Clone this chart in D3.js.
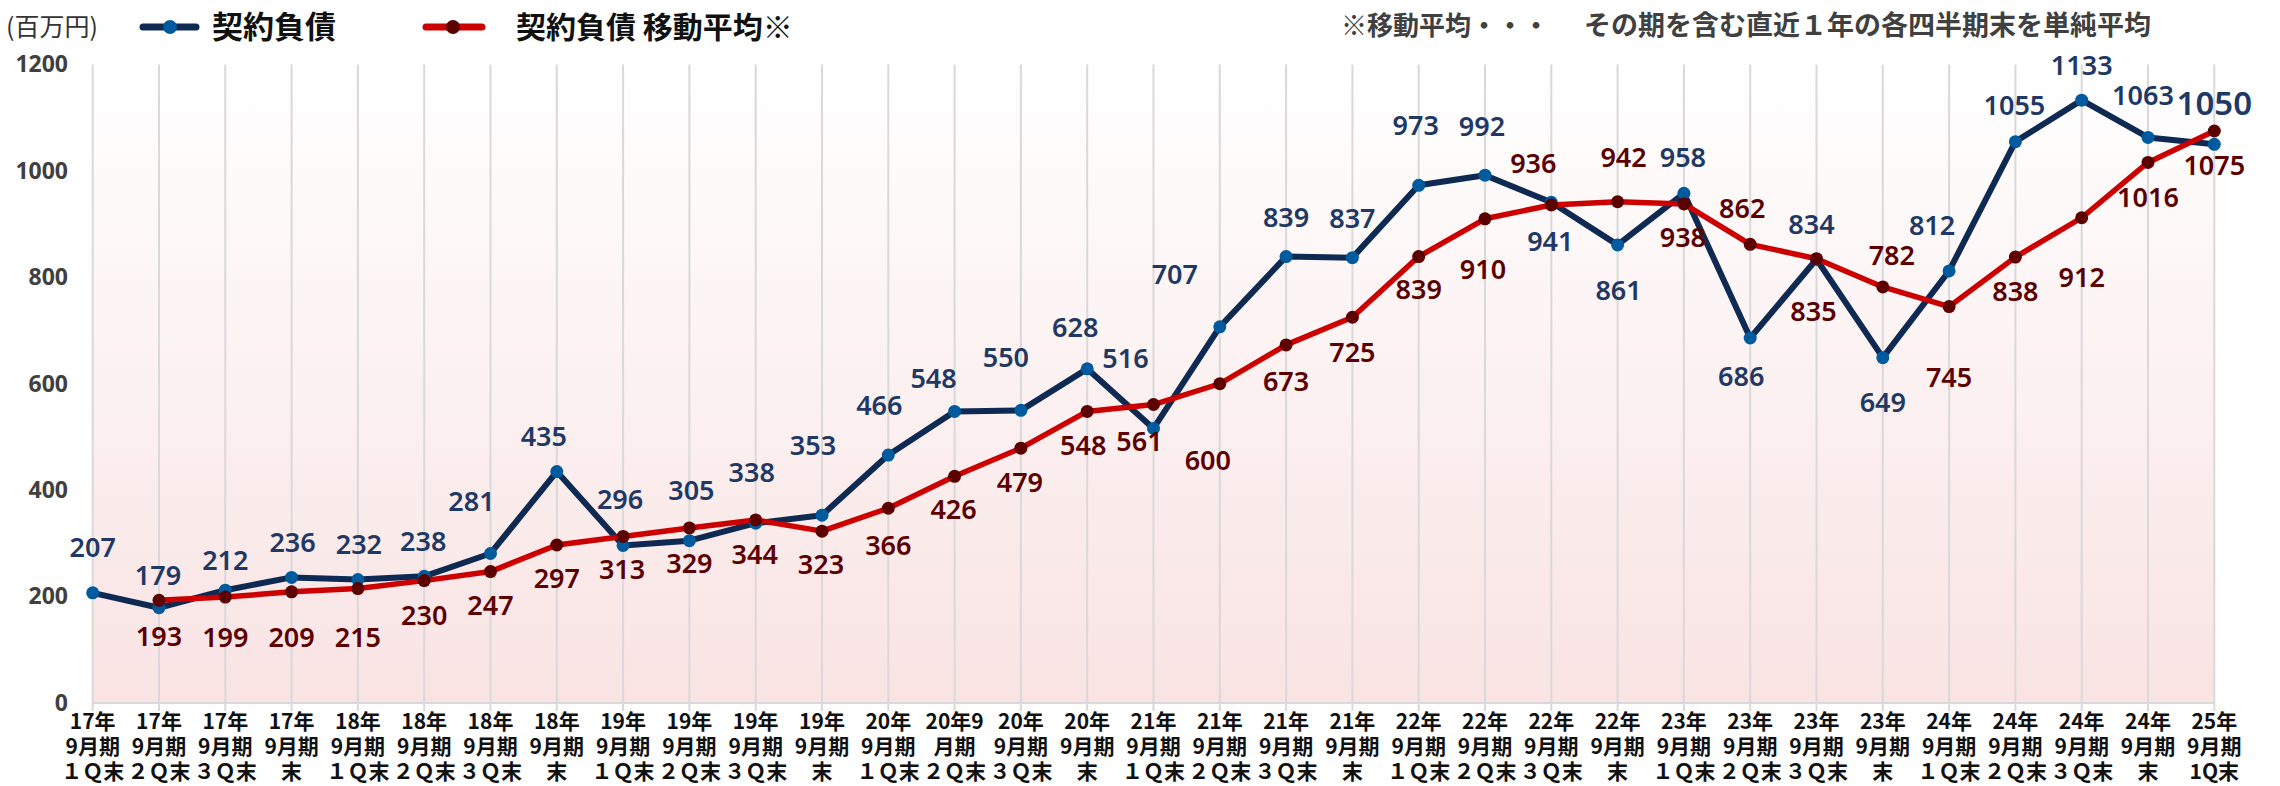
<!DOCTYPE html>
<html>
<head>
<meta charset="utf-8">
<script src="https://cdn.jsdelivr.net/npm/d3@7"></script>
<style>
  body { margin: 0; background: #fff; }
  svg { display: block; font-family: "Noto Sans", "Noto Sans CJK JP", sans-serif; }
  .jp { font-family: "Noto Sans CJK JP", sans-serif; }
</style>
</head>
<body>
<div id="viz"></div>
<script>
var width = 2280,
    height = 786;

// tick labels (3 lines each)
var periodLabels = [
  ['17年', '9月期', '１Ｑ末'], ['17年', '9月期', '２Ｑ末'], ['17年', '9月期', '３Ｑ末'], ['17年', '9月期', '末'],
  ['18年', '9月期', '１Ｑ末'], ['18年', '9月期', '２Ｑ末'], ['18年', '9月期', '３Ｑ末'], ['18年', '9月期', '末'],
  ['19年', '9月期', '１Ｑ末'], ['19年', '9月期', '２Ｑ末'], ['19年', '9月期', '３Ｑ末'], ['19年', '9月期', '末'],
  ['20年', '9月期', '１Ｑ末'], ['20年9', '月期', '２Ｑ末'], ['20年', '9月期', '３Ｑ末'], ['20年', '9月期', '末'],
  ['21年', '9月期', '１Ｑ末'], ['21年', '9月期', '２Ｑ末'], ['21年', '9月期', '３Ｑ末'], ['21年', '9月期', '末'],
  ['22年', '9月期', '１Ｑ末'], ['22年', '9月期', '２Ｑ末'], ['22年', '9月期', '３Ｑ末'], ['22年', '9月期', '末'],
  ['23年', '9月期', '１Ｑ末'], ['23年', '9月期', '２Ｑ末'], ['23年', '9月期', '３Ｑ末'], ['23年', '9月期', '末'],
  ['24年', '9月期', '１Ｑ末'], ['24年', '9月期', '２Ｑ末'], ['24年', '9月期', '３Ｑ末'], ['24年', '9月期', '末'],
  ['25年', '9月期', '1Q末']
];

// 契約負債
var liability = [207, 179, 212, 236, 232, 238, 281, 435, 296, 305, 338, 353,
  466, 548, 550, 628, 516, 707, 839, 837, 973, 992, 941, 861,
  958, 686, 834, 649, 812, 1055, 1133, 1063, 1050];

// 移動平均 (starts at 2nd period)
var movingAvg = [null, 193, 199, 209, 215, 230, 247, 297, 313, 329, 344, 323,
  366, 426, 479, 548, 561, 600, 673, 725, 839, 910, 936, 942,
  938, 862, 835, 782, 745, 838, 912, 1016, 1075];

var yTicks = [0, 200, 400, 600, 800, 1000, 1200];

// label offsets from the point [dx, dy(baseline)]
var liabLabelOff = [
  [0, -36], [-1, -23], [0, -20], [1, -25], [1, -26], [-1, -25], [-19, -42], [-13, -26],
  [-3, -37], [2, -41], [-4, -41], [-9, -60], [-9, -40], [-21, -23], [-15, -43], [-12, -32],
  [-28, -60], [-45, -43], [0, -30], [0, -30], [-3, -50], [-3, -39], [-1, 49], [1, 55],
  [-1, -26], [-9, 48], [-5, -25], [0, 54], [-17, -36], [-1, -27], [0, -25], [-5, -32], [0, -29]
];
var avgLabelOff = [
  null, [0, 46], [0, 50], [0, 55], [0, 58], [0, 44], [0, 43], [0, 43],
  [-1, 43], [0, 45], [-1, 44], [-1, 43], [0, 47], [-1, 43], [-1, 44], [-4, 44],
  [-14, 46], [-12, 86], [0, 46], [0, 45], [0, 42], [-2, 60], [-18, -32], [6, -35],
  [-1, 43], [-8, -26], [-3, 62], [9, -22], [0, 80], [0, 44], [0, 69], [0, 45], [0, 44]
];

var x = d3.scalePoint()
  .domain(d3.range(liability.length))
  .range([92.7, 2214.3]);

var y = d3.scaleLinear()
  .domain([0, 1200])
  .range([703, 64.5]);

var svg = d3.select('#viz').append('svg')
  .attr('width', width)
  .attr('height', height);

// background gradient
var grad = svg.append('defs').append('linearGradient')
  .attr('id', 'bg')
  .attr('x1', 0).attr('y1', 0).attr('x2', 0).attr('y2', 1);
grad.append('stop').attr('offset', '0%').attr('stop-color', '#ffffff');
grad.append('stop').attr('offset', '100%').attr('stop-color', '#f9e3e3');

svg.append('rect')
  .attr('x', x(0))
  .attr('y', y(1200))
  .attr('width', x(liability.length - 1) - x(0))
  .attr('height', y(0) - y(1200))
  .attr('fill', 'url(#bg)');

// vertical gridlines + ticks
svg.append('g')
  .selectAll('line')
  .data(d3.range(liability.length))
  .join('line')
  .attr('x1', d => x(d)).attr('x2', d => x(d))
  .attr('y1', y(1200)).attr('y2', y(0) + 8)
  .attr('stroke', '#d9d9d9')
  .attr('stroke-width', 2);

svg.append('line')
  .attr('x1', x(0)).attr('x2', x(liability.length - 1))
  .attr('y1', y(0)).attr('y2', y(0))
  .attr('stroke', '#d9d9d9')
  .attr('stroke-width', 2);

// y axis
var yAxis = svg.append('g')
  .attr('transform', 'translate(70,0)')
  .call(d3.axisLeft(y).tickValues(yTicks).tickFormat(d3.format('d')).tickSize(0).tickPadding(2));
yAxis.select('.domain').remove();
yAxis.selectAll('text')
  .attr('font-size', 23)
  .attr('font-weight', 700)
  .attr('font-family', '"Noto Sans", sans-serif')
  .attr('fill', '#404040');

// x labels, one text per line
var xl = svg.append('g').attr('class', 'jp');
periodLabels.forEach(function(lines, i) {
  lines.forEach(function(s, k) {
    xl.append('text')
      .attr('x', x(i))
      .attr('y', 729 + k * 25)
      .attr('text-anchor', 'middle')
      .attr('font-size', 21)
      .attr('font-weight', 700)
      .attr('fill', '#111')
      .text(s);
  });
});

var liabLine = d3.line()
  .x((d, i) => x(i))
  .y(d => y(d));

var avgLine = d3.line()
  .defined(d => d != null)
  .x((d, i) => x(i))
  .y(d => y(d));

svg.append('path')
  .datum(liability)
  .attr('fill', 'none')
  .attr('stroke', '#0f2a52')
  .attr('stroke-width', 6)
  .attr('stroke-linejoin', 'round')
  .attr('d', liabLine);

svg.append('g')
  .selectAll('circle')
  .data(liability)
  .join('circle')
  .attr('cx', (d, i) => x(i))
  .attr('cy', d => y(d))
  .attr('r', 6.5)
  .attr('fill', '#005a9e');

svg.append('path')
  .datum(movingAvg)
  .attr('fill', 'none')
  .attr('stroke', '#cc0000')
  .attr('stroke-width', 5.5)
  .attr('stroke-linejoin', 'round')
  .attr('d', avgLine);

svg.append('g')
  .selectAll('circle')
  .data(movingAvg.map((d, i) => [d, i]).filter(p => p[0] != null))
  .join('circle')
  .attr('cx', p => x(p[1]))
  .attr('cy', p => y(p[0]))
  .attr('r', 6.5)
  .attr('fill', '#5c0000');

// data labels
svg.append('g')
  .selectAll('text')
  .data(liability)
  .join('text')
  .attr('x', (d, i) => x(i) + liabLabelOff[i][0])
  .attr('y', (d, i) => y(d) + liabLabelOff[i][1])
  .attr('text-anchor', 'middle')
  .attr('font-size', (d, i) => i == liability.length - 1 ? 33 : 27)
  .attr('font-weight', 600)
  .attr('fill', '#1f3864')
  .text(d => d);

svg.append('g')
  .selectAll('text')
  .data(movingAvg.map((d, i) => [d, i]).filter(p => p[0] != null))
  .join('text')
  .attr('x', p => x(p[1]) + avgLabelOff[p[1]][0])
  .attr('y', p => y(p[0]) + avgLabelOff[p[1]][1])
  .attr('text-anchor', 'middle')
  .attr('font-size', 27)
  .attr('font-weight', 600)
  .attr('fill', '#5c0000')
  .text(p => p[0]);

// legend
var legend = svg.append('g').attr('class', 'jp');
legend.append('text')
  .attr('x', 6).attr('y', 36)
  .attr('font-size', 25)
  .attr('fill', '#333')
  .text('(百万円)');

legend.append('line')
  .attr('x1', 143).attr('x2', 196).attr('y1', 27).attr('y2', 27)
  .attr('stroke', '#0f2a52').attr('stroke-width', 7).attr('stroke-linecap', 'round');
legend.append('circle').attr('cx', 170).attr('cy', 27).attr('r', 7).attr('fill', '#005a9e');
legend.append('text')
  .attr('x', 212).attr('y', 38)
  .attr('font-size', 31)
  .attr('font-weight', 700)
  .attr('fill', '#111')
  .text('契約負債');

legend.append('line')
  .attr('x1', 426).attr('x2', 482).attr('y1', 27).attr('y2', 27)
  .attr('stroke', '#cc0000').attr('stroke-width', 7).attr('stroke-linecap', 'round');
legend.append('circle').attr('cx', 453).attr('cy', 27).attr('r', 7).attr('fill', '#5c0000');
legend.append('text')
  .attr('x', 516).attr('y', 38)
  .attr('font-size', 30)
  .attr('font-weight', 700)
  .attr('fill', '#111')
  .text('契約負債 移動平均※');

// note
legend.append('text')
  .attr('x', 1341).attr('y', 35)
  .attr('font-size', 26)
  .attr('font-weight', 700)
  .attr('fill', '#404040')
  .text('※移動平均・・・');
legend.append('text')
  .attr('x', 1584).attr('y', 35)
  .attr('font-size', 27)
  .attr('font-weight', 700)
  .attr('fill', '#404040')
  .text('その期を含む直近１年の各四半期末を単純平均');
</script>
</body>
</html>
